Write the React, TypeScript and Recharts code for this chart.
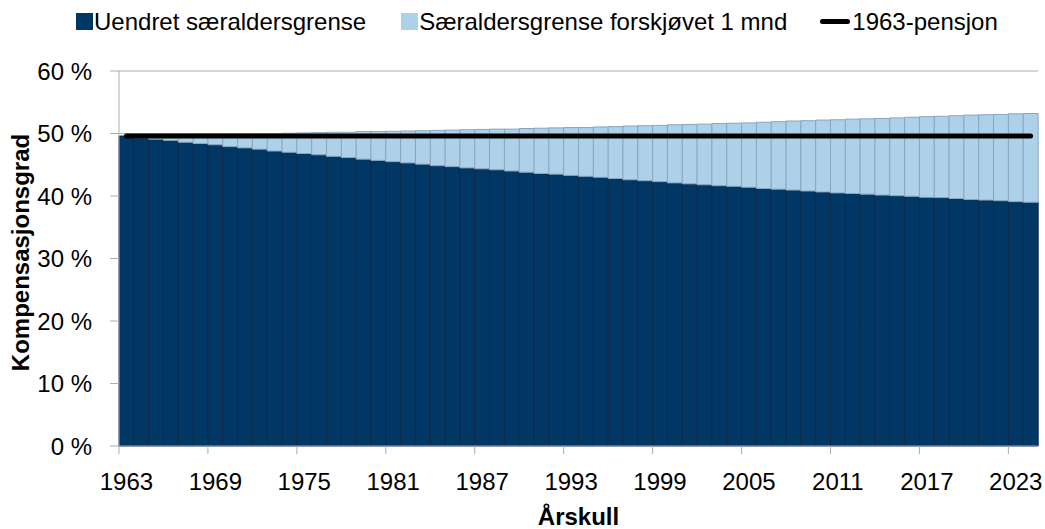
import { ComposedChart, Bar, Line, XAxis, YAxis, CartesianGrid, Legend, Label } from "recharts";

const years = [
  1963, 1964, 1965, 1966, 1967, 1968, 1969, 1970, 1971, 1972, 1973, 1974, 1975, 1976, 1977, 1978,
  1979, 1980, 1981, 1982, 1983, 1984, 1985, 1986, 1987, 1988, 1989, 1990, 1991, 1992, 1993, 1994,
  1995, 1996, 1997, 1998, 1999, 2000, 2001, 2002, 2003, 2004, 2005, 2006, 2007, 2008, 2009, 2010,
  2011, 2012, 2013, 2014, 2015, 2016, 2017, 2018, 2019, 2020, 2021, 2022, 2023, 2024,
];

// Uendret særaldersgrense (%)
const uendret = [
  49.6, 49.3, 49.1, 48.9, 48.6, 48.4, 48.2, 47.9, 47.7, 47.5, 47.2, 47.0, 46.8, 46.6, 46.35, 46.15,
  45.9, 45.7, 45.5, 45.3, 45.1, 44.85, 44.7, 44.5, 44.35, 44.2, 44.0, 43.8, 43.6, 43.5, 43.3, 43.15,
  43.0, 42.8, 42.6, 42.45, 42.3, 42.1, 41.95, 41.8, 41.65, 41.55, 41.4, 41.2, 41.1, 40.95, 40.8, 40.65,
  40.5, 40.4, 40.3, 40.15, 40.05, 39.95, 39.8, 39.75, 39.6, 39.45, 39.35, 39.25, 39.1, 39.0,
];

// Tillegg ved særaldersgrense forskjøvet 1 mnd (prosentpoeng, stablet oppå)
const forskjovet = [
  0, 0.35, 0.6, 0.85, 1.2, 1.45, 1.7, 2.0, 2.25, 2.5, 2.8, 3.05, 3.3, 3.55, 3.85, 4.05,
  4.4, 4.6, 4.85, 5.1, 5.35, 5.65, 5.85, 6.1, 6.3, 6.5, 6.7, 7.0, 7.25, 7.4, 7.65, 7.8,
  8.05, 8.3, 8.6, 8.8, 9.0, 9.3, 9.5, 9.7, 9.95, 10.1, 10.3, 10.6, 10.8, 11.05, 11.25, 11.5,
  11.7, 11.9, 12.05, 12.25, 12.45, 12.65, 12.9, 13.0, 13.25, 13.5, 13.65, 13.8, 14.05, 14.2,
];

// 1963-pensjon (%)
const pensjon1963 = [
  49.6, 49.6, 49.6, 49.6, 49.6, 49.6, 49.6, 49.6, 49.6, 49.6, 49.6, 49.6, 49.6, 49.6, 49.6, 49.6,
  49.6, 49.6, 49.6, 49.6, 49.6, 49.6, 49.6, 49.6, 49.6, 49.6, 49.6, 49.6, 49.6, 49.6, 49.6, 49.6,
  49.6, 49.6, 49.6, 49.6, 49.6, 49.6, 49.6, 49.6, 49.6, 49.6, 49.6, 49.6, 49.6, 49.6, 49.6, 49.6,
  49.6, 49.6, 49.6, 49.6, 49.6, 49.6, 49.6, 49.6, 49.6, 49.6, 49.6, 49.6, 49.6, 49.6,
];

const yTicks = [0, 10, 20, 30, 40, 50, 60];

const data = years.map((year, i) => ({
  year: String(year),
  uendret: uendret[i],
  forskjovet: forskjovet[i],
  pensjon: pensjon1963[i],
}));

const DARK = "#003764";
const LIGHT = "#aed1ea";
const AXIS = "#a5adbb";
const FONT = "'Liberation Sans', Arial, sans-serif";

function YearTick(props: any) {
  const { x, y, payload } = props;
  const half = payload && payload.offset ? payload.offset : 7.41;
  return (
    <g>
      <line x1={x - half} x2={x - half} y1={y} y2={y + 8} stroke={AXIS} strokeWidth={1} />
      <text x={x} y={y + 44} textAnchor="middle" fontSize={24} fill="#000" fontFamily={FONT}>
        {payload.value}
      </text>
    </g>
  );
}

function ChartLegend() {
  const swatch = (color: string) => (
    <span style={{ display: "inline-block", width: 17, height: 17, background: color, marginRight: 1 }} />
  );
  return (
    <div
      style={{
        display: "flex",
        alignItems: "center",
        height: 40,
        paddingLeft: 76,
        paddingTop: 3,
        boxSizing: "border-box",
        fontFamily: FONT,
        fontSize: 24,
        color: "#000",
        whiteSpace: "nowrap",
      }}
    >
      {swatch(DARK)}
      <span>Uendret særaldersgrense</span>
      <span style={{ marginLeft: 35, display: "flex", alignItems: "center" }}>
        {swatch(LIGHT)}
        <span>Særaldersgrense forskjøvet 1 mnd</span>
      </span>
      <span style={{ marginLeft: 33, display: "flex", alignItems: "center" }}>
        <span style={{ display: "inline-block", width: 30, height: 5, borderRadius: 3, background: "#000", marginRight: 2 }} />
        <span>1963-pensjon</span>
      </span>
    </div>
  );
}

export default function App() {
  return (
    <div style={{ width: 1045, height: 529, fontFamily: FONT, background: "#fff" }}>
      <style>{`body{margin:0}`}</style>
      <ComposedChart
        width={1045}
        height={529}
        data={data}
        margin={{ top: 31, right: 7, bottom: 0, left: 0 }}
        barCategoryGap={0}
        barGap={0}
      >
        <Legend
          verticalAlign="top"
          align="left"
          content={() => <ChartLegend />}
          wrapperStyle={{ top: 0, left: 0, width: 1045, height: 40 }}
        />
        <CartesianGrid vertical={false} stroke={AXIS} strokeWidth={1} />
        <XAxis
          dataKey="year"
          interval={5}
          tickLine={false}
          tickSize={0}
          tickMargin={0}
          height={83}
          stroke={AXIS}
          tick={<YearTick />}
        >
          <Label
            value="Årskull"
            position="insideBottom"
            offset={4}
            style={{ fontFamily: FONT, fontSize: 24, fontWeight: "bold", fill: "#000" }}
          />
        </XAxis>
        <YAxis
          domain={[0, 60]}
          ticks={yTicks}
          interval={0}
          width={119}
          tickSize={9}
          tickMargin={18}
          stroke={AXIS}
          tick={{ fill: "#000", fontSize: 24, fontFamily: FONT }}
          tickFormatter={(v: number) => `${v} %`}
        >
          <Label
            content={(p: any) => {
              const vb = p.viewBox || { x: 0, y: 71, height: 375 };
              const cx = 29;
              const cy = vb.y + vb.height / 2 - 6;
              return (
                <text
                  x={cx}
                  y={cy}
                  transform={`rotate(-90 ${cx} ${cy})`}
                  textAnchor="middle"
                  fontFamily={FONT}
                  fontSize={24}
                  fontWeight="bold"
                  fill="#000"
                >
                  Kompensasjonsgrad
                </text>
              );
            }}
          />
        </YAxis>
        <Bar
          dataKey="uendret"
          name="Uendret særaldersgrense"
          stackId="a"
          fill={DARK}
          stroke="#10294a"
          strokeWidth={1}
          isAnimationActive={false}
        />
        <Bar
          dataKey="forskjovet"
          name="Særaldersgrense forskjøvet 1 mnd"
          stackId="a"
          fill={LIGHT}
          stroke="#8aa5bd"
          strokeWidth={1}
          isAnimationActive={false}
        />
        <Line
          dataKey="pensjon"
          name="1963-pensjon"
          type="linear"
          stroke="#000"
          strokeWidth={5}
          strokeLinecap="round"
          dot={false}
          activeDot={false}
          isAnimationActive={false}
        />
      </ComposedChart>
    </div>
  );
}
